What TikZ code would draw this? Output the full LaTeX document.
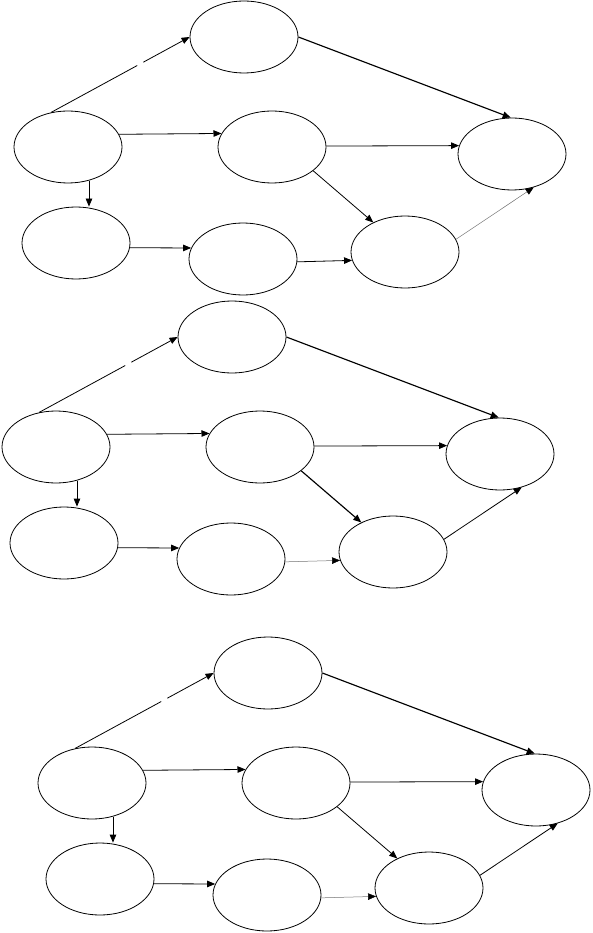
\documentclass[tikz,border=0pt]{standalone}
\usepackage{tikz}
\usetikzlibrary{shapes.geometric,arrows.meta}

\tikzset{
  state/.style={draw,ellipse,minimum width=108pt,minimum height=72pt,inner sep=0pt,line width=0.8pt},
  link/.style={line width=0.8pt,-{Triangle[length=8pt,width=6.5pt]}},
  bold/.style={link,line width=1.15pt},
  faint/.style={line width=0.5pt,draw=black!55,-{Triangle[length=8pt,width=6.5pt,color=black]}},
}

\begin{document}
\begin{tikzpicture}[x=1pt,y=-1pt]
\useasboundingbox (0,0) rectangle (592,933);
% the same graph three times, shifted
\foreach \n/\dx/\dy/\ef/\de/\be in {1/0/0/faint/link/link, 2/-12/300/link/faint/bold, 3/24/636/link/faint/link}{
  \begin{scope}[shift={(\dx,\dy)}]
    \node[state] (T\n) at (244,37) {};
    \node[state] (A\n) at (68,147) {};
    \node[state] (B\n) at (272,147) {};
    \node[state] (C\n) at (76,243) {};
    \node[state] (D\n) at (243,259) {};
    \node[state] (E\n) at (405,252) {};
    \node[state] (F\n) at (512,154) {};
    \draw[link,dash pattern=on 98pt off 7pt on 300pt] (A\n.116) -- (T\n.west);
    \draw[bold] (T\n.east) -- (F\n.92);
    \draw[link] (A\n.14.5) -- (B\n.165.5);
    \draw[link] (A\n.302) -- (A\n.302 |- C\n.north);
    \draw[link] (C\n.355) -- (D\n.168);
    \draw[\de] (D\n.357) -- (E\n.189);
    \draw[link] (B\n.1) -- (F\n.171);
    \draw[\be] (B\n.330) -- (E\n.137);
    \draw[\ef] (E\n.14) -- (F\n.303);
  \end{scope}
}
\end{tikzpicture}
\end{document}
